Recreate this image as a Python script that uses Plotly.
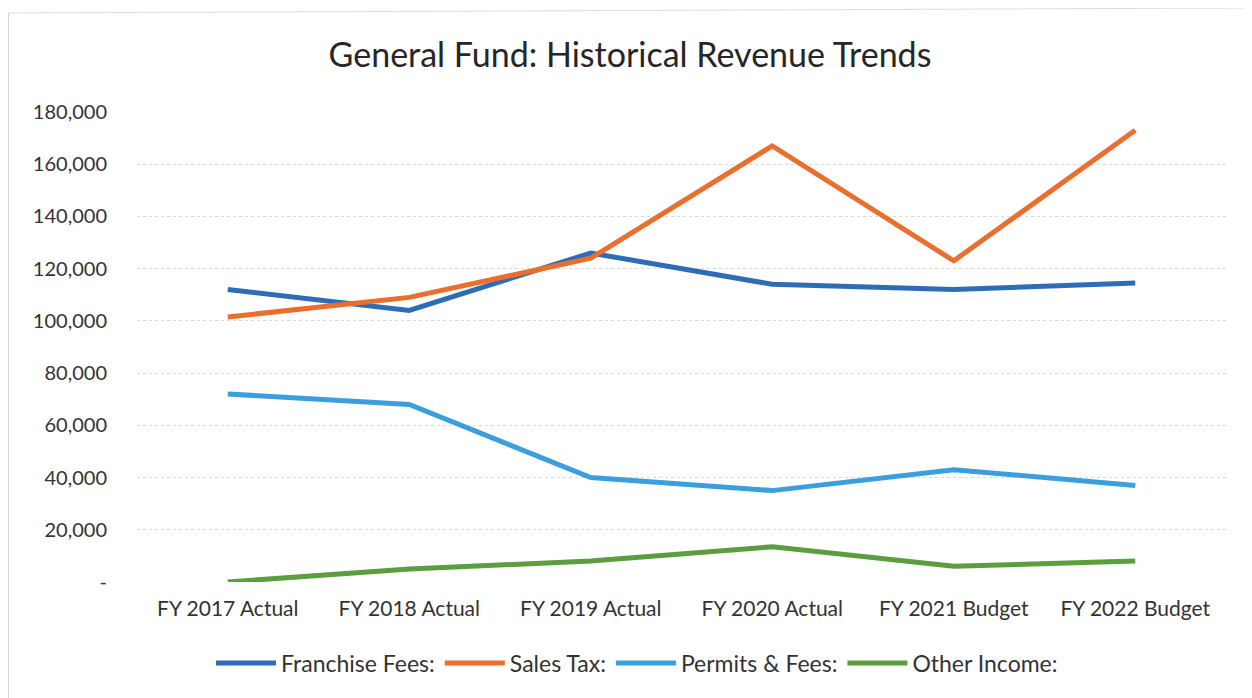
import plotly.graph_objects as go

categories = ["FY 2017 Actual", "FY 2018 Actual", "FY 2019 Actual", "FY 2020 Actual", "FY 2021 Budget", "FY 2022 Budget"]
franchise_fees = [112000, 104000, 126000, 114000, 112000, 114500]
sales_tax = [101500, 109000, 124000, 167000, 123000, 173000]
permits_fees = [72000, 68000, 40000, 35000, 43000, 37000]
other_income = [0, 5000, 8000, 13500, 6000, 8000]

y_ticks = [0, 20000, 40000, 60000, 80000, 100000, 120000, 140000, 160000, 180000]
y_tick_labels = ["-"] + [f"{v:,}" for v in y_ticks[1:]]

series = [
    ("Franchise Fees:", franchise_fees, "#2E6DB5"),
    ("Sales Tax:", sales_tax, "#EA6E2E"),
    ("Permits & Fees:", permits_fees, "#3C9FDD"),
    ("Other Income:", other_income, "#5A9E3E"),
]

FONT = "Lato"
W, H = 1252, 698
ML, MR, MT, MB = 129, 34, 104, 124
PW, PH = W - ML - MR, H - MT - MB

def px(x):
    return (x - ML) / PW

def py(y):
    return (H - MB - y) / PH

fig = go.Figure()
for name, vals, color in series:
    fig.add_trace(go.Scatter(x=categories, y=vals, name=name, mode="lines",
                             line=dict(color=color, width=5)))

# faint chart border
fig.add_shape(type="line", xref="paper", yref="paper", x0=px(0.5), x1=px(0.5), y0=py(5), y1=py(H),
              line=dict(color="#D4D4D4", width=1))
fig.add_shape(type="line", xref="paper", yref="paper", x0=px(0.5), x1=px(1242), y0=py(5), y1=py(0),
              line=dict(color="#DDDDDD", width=1))

fig.update_layout(
    width=W, height=H,
    paper_bgcolor="white", plot_bgcolor="white",
    margin=dict(l=ML, r=MR, t=MT, b=MB),
    title=dict(text="General Fund: Historical Revenue Trends", x=622 / W, xanchor="center",
               y=1 - 47 / H, yanchor="middle", font=dict(family=FONT, size=34, color="#262626")),
    font=dict(family=FONT, color="#333333", size=20),
    showlegend=True,
    legend=dict(orientation="h", x=px(629), xanchor="center", y=py(655), yanchor="middle",
                font=dict(family=FONT, size=23, color="#333333"),
                itemwidth=60, traceorder="normal"),
    xaxis=dict(showgrid=False, showline=False, ticks="", tickfont=dict(size=21),
               range=[-0.5, 5.5], ticklabelstandoff=12),
    yaxis=dict(range=[0, 180000], tickvals=y_ticks, ticktext=y_tick_labels,
               showgrid=True, gridcolor="#D9D9D9", gridwidth=1, griddash="dot",
               zeroline=False, showline=False, ticks="", ticklabelstandoff=29,
               tickfont=dict(size=20)),
)

fig.write_html("out.html")
